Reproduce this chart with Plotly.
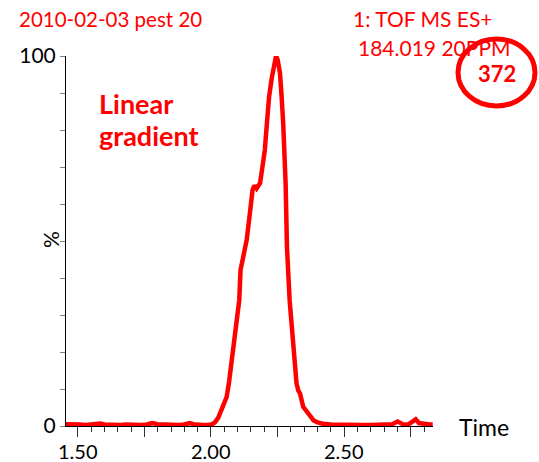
import plotly.graph_objects as go

# Chromatogram trace: retention time (min) vs relative intensity (%)
times = [1.456, 1.47, 1.49, 1.51, 1.53, 1.55, 1.57, 1.585, 1.60, 1.62, 1.64, 1.66,
         1.68, 1.70, 1.72, 1.74, 1.76, 1.78, 1.80, 1.82, 1.84, 1.86, 1.88, 1.90,
         1.92, 1.935, 1.95, 1.97, 1.99, 2.005, 2.015, 2.027, 2.04, 2.05, 2.059,
         2.068, 2.077, 2.084, 2.09, 2.098, 2.106, 2.111, 2.122, 2.134, 2.146,
         2.156, 2.163, 2.171, 2.178, 2.184, 2.193, 2.202, 2.210, 2.218, 2.228,
         2.237, 2.244, 2.250, 2.259, 2.265, 2.271, 2.280, 2.285, 2.295, 2.308,
         2.321, 2.328, 2.334, 2.346, 2.358, 2.371, 2.385, 2.40, 2.42, 2.45, 2.48,
         2.51, 2.54, 2.57, 2.60, 2.63, 2.66, 2.68, 2.70, 2.72, 2.74, 2.755, 2.768,
         2.78, 2.80, 2.82, 2.832]
intensity = [0.5, 0.4, 0.3, 0.4, 0.3, 0.4, 0.4, 0.7, 0.4, 0.3, 0.4, 0.3,
             0.4, 0.3, 0.4, 0.3, 0.4, 0.8, 0.5, 0.4, 0.3, 0.4, 0.3, 0.4,
             0.8, 0.5, 0.3, 0.3, 0.3, 0.5, 1.0, 2.2, 4.5, 6.0, 7.9,
             12.0, 17.8, 22.0, 25.9, 30.0, 34.0, 42.2, 46.0, 50.3, 57.5,
             63.8, 65.0, 64.2, 65.0, 65.6, 70.0, 74.6, 82.0, 89.0, 94.0,
             97.5, 100.0, 99.0, 95.3, 89.0, 81.8, 65.6, 48.5, 34.0, 23.2,
             11.5, 9.5, 8.8, 5.2, 4.0, 3.0, 1.5, 1.0, 0.6, 0.4, 0.3,
             0.3, 0.3, 0.3, 0.3, 0.3, 0.4, 0.5, 1.2, 0.5, 0.4, 1.0, 1.8,
             0.8, 0.5, 0.4, 0.4]

x_major = [1.50, 1.75, 2.00, 2.25, 2.50, 2.75]
x_major_text = ["1.50", "", "2.00", "", "2.50", ""]
x_minor = [1.55, 1.60, 1.65, 1.70, 1.80, 1.85, 1.90, 1.95,
           2.05, 2.10, 2.15, 2.20, 2.30, 2.35, 2.40, 2.45,
           2.55, 2.60, 2.65, 2.70, 2.80]
y_major = [0, 10, 20, 30, 40, 50, 60, 70, 80, 90, 100]
y_major_text = ["0", "", "", "", "", "", "", "", "", "", "100"]

RED = "#ff0000"
FONT = "Lato"

fig = go.Figure()
fig.add_trace(go.Scatter(x=times, y=intensity, mode="lines",
                         line=dict(color=RED, width=4.5), hoverinfo="skip"))

L, R, T, B = 66, 106, 56, 36
W, H = 539, 462
pw, ph = W - L - R, H - T - B


def px(xp):
    return (xp - L) / pw


def py(yp):
    return (H - B - yp) / ph


fig.update_layout(
    width=W, height=H,
    margin=dict(l=L, r=R, t=T, b=B, autoexpand=False),
    paper_bgcolor="white", plot_bgcolor="white",
    showlegend=False,
    font=dict(family=FONT, size=21, color="black"),
    xaxis=dict(range=[1.456, 2.833], showgrid=False, zeroline=False,
               automargin=False,
               showline=True, linecolor="black", linewidth=1,
               ticks="outside", ticklen=10, tickwidth=1, tickcolor="#333",
               tickvals=x_major, ticktext=["" for _ in x_major],
               minor=dict(tickvals=x_minor, ticks="outside", ticklen=5,
                          tickcolor="#333", showgrid=False)),
    yaxis=dict(range=[0, 100], showgrid=False, zeroline=False,
               automargin=False,
               showline=True, linecolor="black", linewidth=1,
               ticks="outside", ticklen=5, tickwidth=1, tickcolor="#808080",
               tickvals=y_major, ticktext=y_major_text,
               tickfont=dict(size=21, color="black")),
)

ann = [
    dict(text="2010-02-03 pest 20", x=px(17), y=py(19), xanchor="left",
         font=dict(size=20.5, color=RED)),
    dict(text="1: TOF MS ES+", x=px(422), y=py(19), xanchor="center",
         font=dict(size=21, color=RED)),
    dict(text="184.019 20PPM", x=px(434), y=py(47), xanchor="center",
         font=dict(size=21, color=RED)),
    dict(text="<b>372</b>", x=px(497), y=py(74), xanchor="center",
         font=dict(size=22, color=RED)),
    dict(text="<b>Linear</b>", x=px(97), y=py(103), xanchor="left",
         font=dict(size=27, color=RED)),
    dict(text="<b>gradient</b>", x=px(97), y=py(135), xanchor="left",
         font=dict(size=27, color=RED)),
    dict(text="%", x=px(50), y=py(240), xanchor="center", textangle=-90,
         font=dict(size=21, color="black")),
    dict(text="Time", x=px(457), y=py(427), xanchor="left",
         font=dict(size=23, color="black")),
]
for a in ann:
    a.update(xref="paper", yref="paper", yanchor="middle", showarrow=False)

# x tick labels at the labelled major ticks, sitting just under the tick marks
for val, txt in zip(x_major, x_major_text):
    if txt:
        ann.append(dict(text=txt, x=val, xref="x", y=py(451), yref="paper",
                        xanchor="center", yanchor="middle", showarrow=False,
                        borderpad=0, font=dict(size=20, color="black")))
fig.update_layout(annotations=ann)

fig.add_shape(type="circle", xref="paper", yref="paper",
              x0=px(458), x1=px(535), y0=py(106), y1=py(39),
              line=dict(color=RED, width=5))

fig.write_html("out.html")
